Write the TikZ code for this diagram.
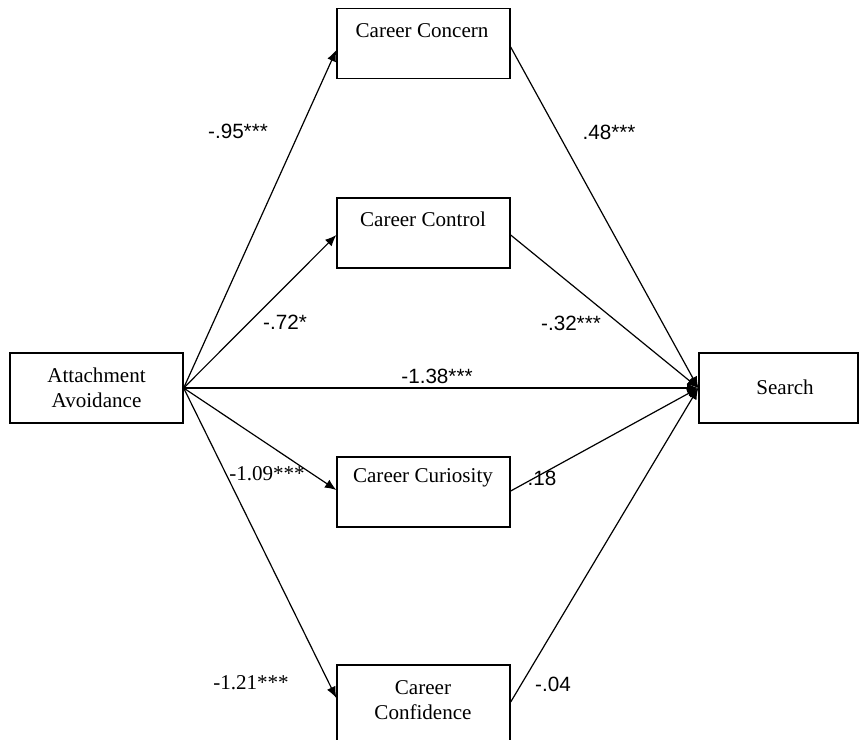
\documentclass[tikz,border=0pt]{standalone}
\usepackage{fontspec}
\setmainfont{Liberation Serif}
\newfontfamily\labsans{Liberation Sans}
\usetikzlibrary{arrows.meta,calc}
\begin{document}
\begin{tikzpicture}[x=0.75pt,y=-0.75pt,
  box/.style={draw,line width=1pt,rectangle,inner sep=0pt,minimum width=173*0.75pt,minimum height=70*0.75pt},
  btext/.style={font=\fontsize{15.8}{19.5}\selectfont,align=center,inner sep=0pt},
  wlab/.style={font=\labsans\fontsize{15.5}{18}\selectfont,inner sep=0pt},
  slab/.style={font=\fontsize{15.8}{18}\selectfont,inner sep=0pt},
  conn/.style={line width=0.9pt,-{Latex[length=8.5pt,width=7pt]}}]
\clip (0,0) rectangle (860,739);
\fill[white] (0,0) rectangle (860,739);
% boxes
\node[box] (att) at (96.5,388) {};
\node[box,minimum width=159*0.75pt] (srch) at (778.5,388) {};
\node[box] (conc) at (423.5,43.5) {};
\node[box] (ctrl) at (423.5,233) {};
\node[box] (curi) at (423.5,492) {};
\node[box,minimum height=80*0.75pt] (conf) at (423.5,705) {};
% texts
\node[btext] (tatt) at (96.5,388) {Attachment\\[-1pt]Avoidance};
\node[btext] (tsrch) at (785,387) {Search};
\node[btext] (tconc) at (422,31) {Career Concern};
\node[btext] (tctrl) at (423,219) {Career Control};
\node[btext] (tcuri) at (423,478) {Career Curiosity};
\node[btext] (tconf) at (423,700) {Career\\[-1pt]Confidence};
% connectors
\draw[conn] (att.east) -- ($(conc.west)+(0,6.5)$);
\draw[conn] (att.east) -- ($(ctrl.west)+(0,2)$);
\draw[conn] (att.east) -- (srch.west);
\draw[conn] (att.east) -- ($(curi.west)+(0,-2)$);
\draw[conn] (att.east) -- ($(conf.west)+(0,-7)$);
\draw[conn] ($(conc.east)+(0,3.5)$) -- (srch.west);
\draw[conn] ($(ctrl.east)+(0,2)$) -- (srch.west);
\draw[conn] ($(curi.east)+(0,-1)$) -- (srch.west);
\draw[conn] ($(conf.east)+(0,-3)$) -- (srch.west);
% labels
\node[wlab] (l1) at (238,131) {-.95***};
\node[wlab] (l2) at (609,132) {.48***};
\node[wlab] (l3) at (285,322) {-.72*};
\node[wlab] (l4) at (571,323) {-.32***};
\node[wlab] (l5) at (437,376) {-1.38***};
\node[slab] (l6) at (267,474) {-1.09***};
\node[wlab] (l7) at (542,478) {.18};
\node[slab] (l8) at (251,683) {-1.21***};
\node[wlab] (l9) at (553,684) {-.04};
\end{tikzpicture}
\end{document}
